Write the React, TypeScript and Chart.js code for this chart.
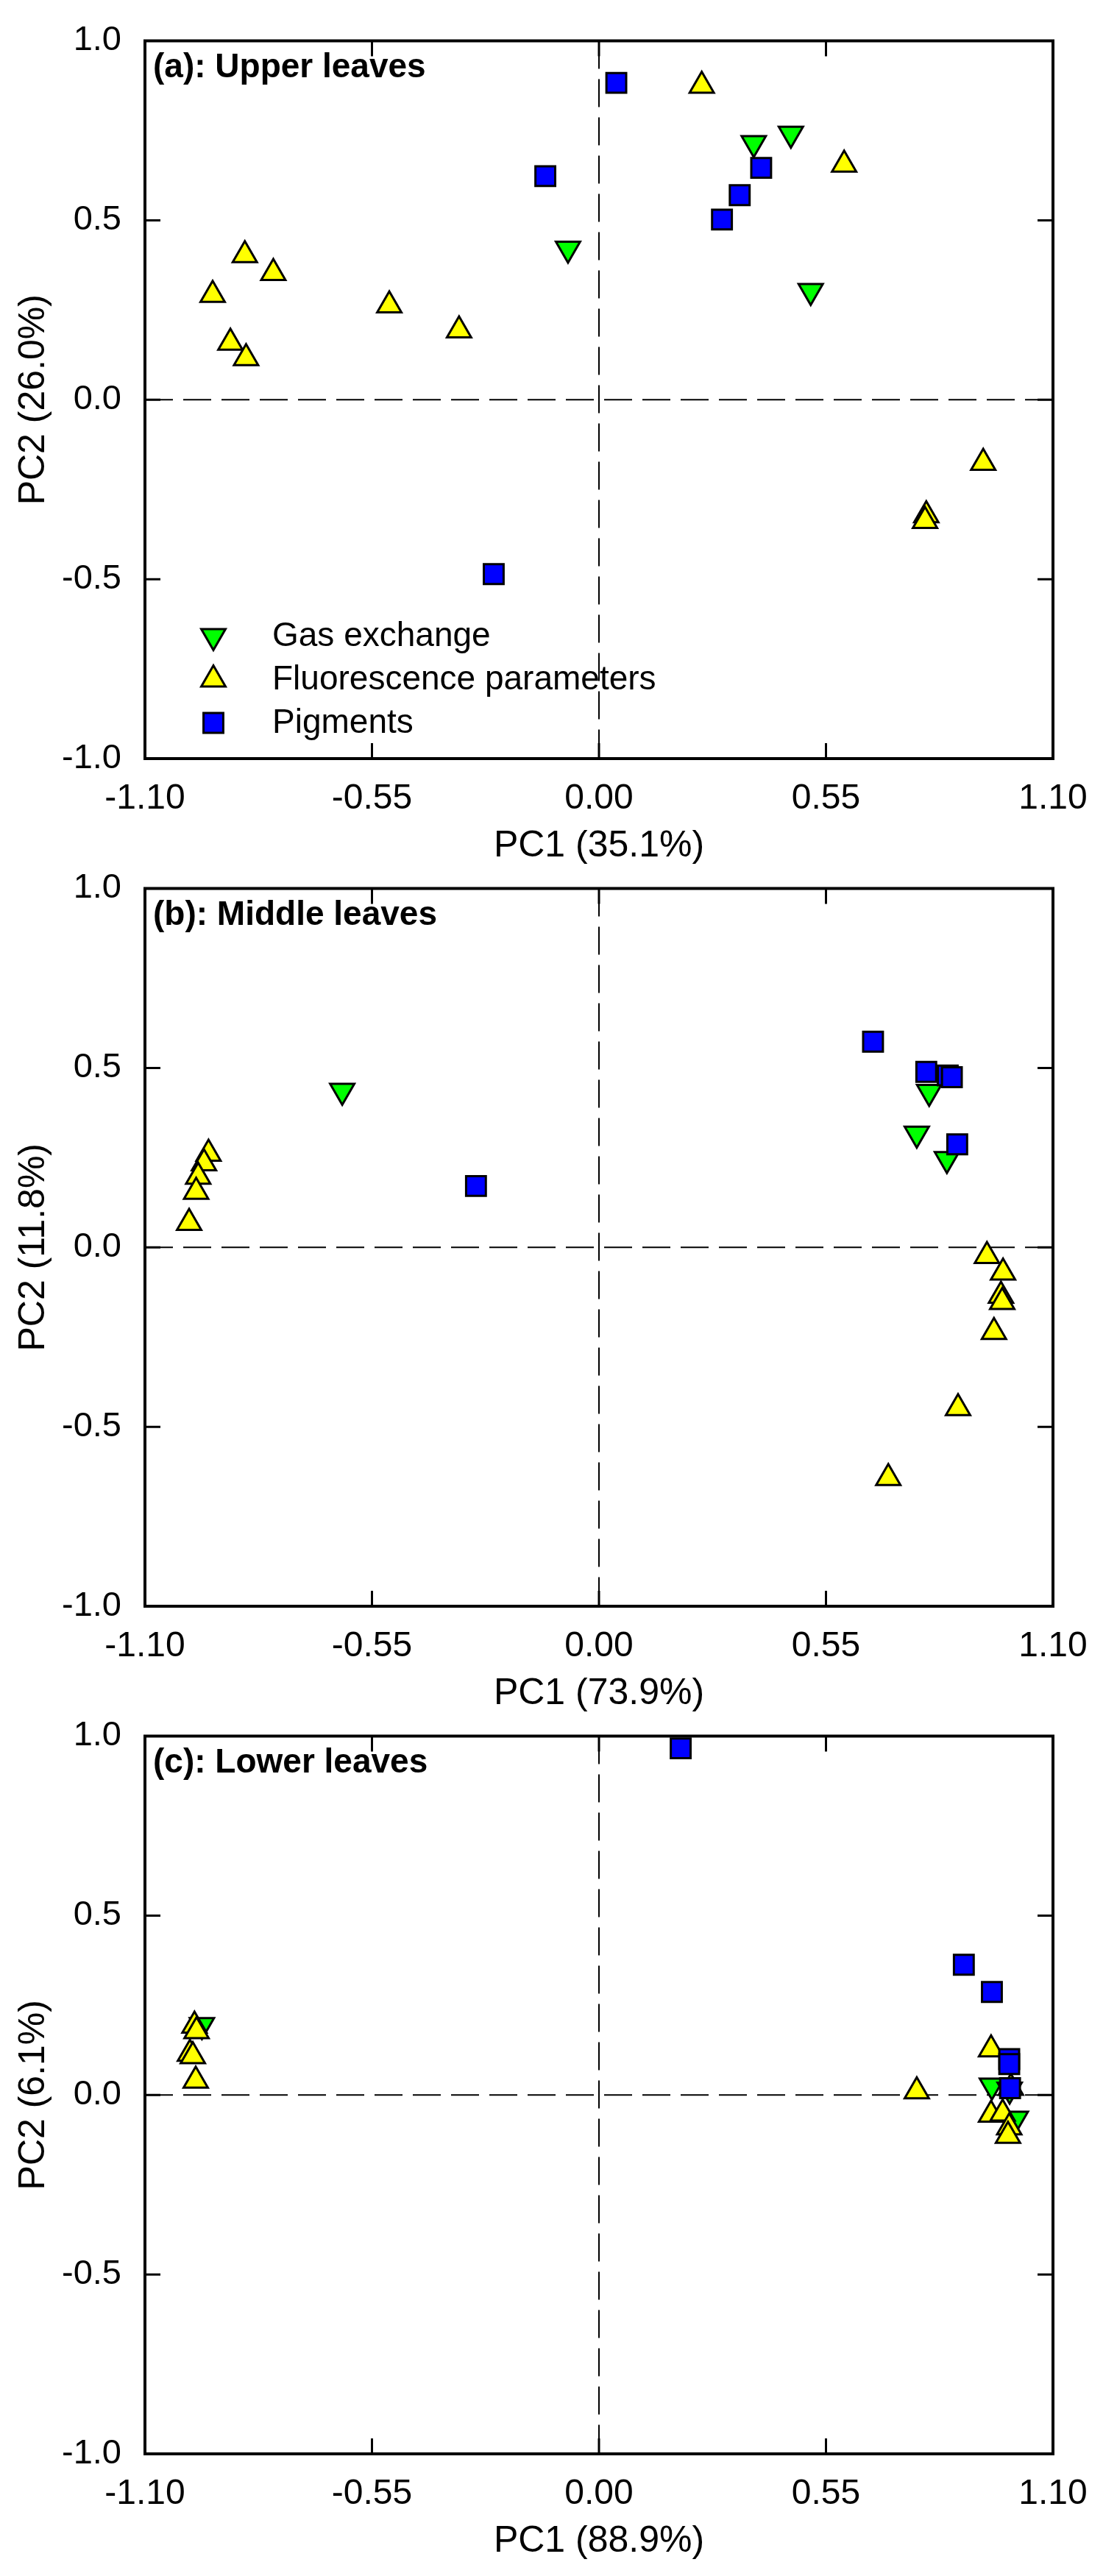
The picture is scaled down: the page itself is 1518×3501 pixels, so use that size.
import React, { useEffect, useRef } from 'react';
import { Chart, registerables } from 'chart.js';

Chart.register(...registerables);

// ---------- tick labels ----------
const X_TICKS = [-1.1, -0.55, 0, 0.55, 1.1];
const Y_TICKS = [-1, -0.5, 0, 0.5, 1];

// ---------- series names (legend order) ----------
const SERIES_NAMES = ['Gas exchange', 'Fluorescence parameters', 'Pigments'];

// ---------- panel (a) Upper leaves ----------
const GAS_A_X = [0.375, 0.465, -0.075, 0.513];
const GAS_A_Y = [0.715, 0.741, 0.421, 0.303];
const FLU_A_X = [0.249, 0.594, -0.858, -0.789, -0.936, -0.508, -0.339, -0.893, -0.855, 0.931, 0.793, 0.79];
const FLU_A_Y = [0.875, 0.655, 0.403, 0.353, 0.292, 0.263, 0.193, 0.159, 0.116, -0.176, -0.322, -0.338];
const PIG_A_X = [0.042, -0.13, 0.393, 0.341, 0.298, -0.255];
const PIG_A_Y = [0.883, 0.623, 0.646, 0.57, 0.502, -0.486];

// ---------- panel (b) Middle leaves ----------
const GAS_B_X = [-0.622, 0.8, 0.77, 0.843];
const GAS_B_Y = [0.436, 0.433, 0.317, 0.246];
const FLU_B_X = [-0.946, -0.957, -0.971, -0.976, -0.993, 0.94, 0.979, 0.974, 0.977, 0.957, 0.87, 0.701];
const FLU_B_Y = [0.261, 0.234, 0.197, 0.155, 0.068, -0.024, -0.07, -0.135, -0.152, -0.236, -0.448, -0.643];
const PIG_B_X = [0.664, 0.793, 0.845, 0.855, 0.868, -0.298];
const PIG_B_Y = [0.573, 0.489, 0.479, 0.474, 0.287, 0.171];

// ---------- panel (c) Lower leaves ----------
const GAS_C_X = [-0.962, 0.952, 1.01, 0.995];
const GAS_C_Y = [0.195, 0.026, -0.066, 0.015];
const FLU_C_X = [-0.98, -0.975, -0.991, -0.984, -0.977, 0.77, 0.95, 0.95, 0.978, 0.994, 0.991, 0.998];
const FLU_C_Y = [0.193, 0.178, 0.115, 0.108, 0.04, 0.01, 0.127, -0.055, -0.052, -0.09, -0.114, 0.02];
const PIG_C_X = [0.198, 0.884, 0.952, 0.994, 0.994, 0.996];
const PIG_C_Y = [0.966, 0.363, 0.287, 0.1, 0.086, 0.019];

// ---------- per-panel labels ----------
const PANEL_TITLES = ['(a): Upper leaves', '(b): Middle leaves', '(c): Lower leaves'];
const PC1_TITLES = ['PC1 (35.1%)', 'PC1 (73.9%)', 'PC1 (88.9%)'];
const PC2_TITLES = ['PC2 (26.0%)', 'PC2 (11.8%)', 'PC2 (6.1%)'];

const PANEL_DATA = [
  { gx: GAS_A_X, gy: GAS_A_Y, fx: FLU_A_X, fy: FLU_A_Y, px: PIG_A_X, py: PIG_A_Y },
  { gx: GAS_B_X, gy: GAS_B_Y, fx: FLU_B_X, fy: FLU_B_Y, px: PIG_B_X, py: PIG_B_Y },
  { gx: GAS_C_X, gy: GAS_C_Y, fx: FLU_C_X, fy: FLU_C_Y, px: PIG_C_X, py: PIG_C_Y },
];

const FONT = '"Liberation Sans", Arial, Helvetica, sans-serif';
const CANVAS_W = 1518;
const CANVAS_H = 1197;
const PANEL_STEP = 1152;

const zip = (xs: number[], ys: number[]) => xs.map((x, i) => ({ x, y: ys[i] }));

function drawMarker(ctx: CanvasRenderingContext2D, style: string, rotation: number, x: number, y: number, r: number) {
  ctx.beginPath();
  if (style === 'triangle') {
    let rad = (rotation * Math.PI) / 180;
    ctx.moveTo(x + Math.sin(rad) * r, y - Math.cos(rad) * r);
    rad += (2 * Math.PI) / 3;
    ctx.lineTo(x + Math.sin(rad) * r, y - Math.cos(rad) * r);
    rad += (2 * Math.PI) / 3;
    ctx.lineTo(x + Math.sin(rad) * r, y - Math.cos(rad) * r);
    ctx.closePath();
  } else {
    const s = Math.SQRT1_2 * r;
    ctx.rect(x - s, y - s, 2 * s, 2 * s);
  }
  ctx.fill();
  ctx.stroke();
}

const framePlugin = {
  id: 'pcaFrame',
  beforeDatasetsDraw(chart: any, _args: any, opts: any) {
    const { ctx, chartArea, scales } = chart;
    const { left, right, top, bottom } = chartArea;
    const xs = scales.x;
    const ys = scales.y;
    ctx.save();
    // dashed zero lines
    ctx.strokeStyle = '#000';
    ctx.lineWidth = 2;
    ctx.setLineDash([38, 14]);
    const x0 = xs.getPixelForValue(0);
    const y0 = ys.getPixelForValue(0);
    ctx.beginPath();
    ctx.moveTo(x0, top);
    ctx.lineTo(x0, bottom);
    ctx.stroke();
    ctx.beginPath();
    ctx.moveTo(left, y0);
    ctx.lineTo(right, y0);
    ctx.stroke();
    ctx.setLineDash([]);
    // inward ticks on all four sides
    ctx.lineWidth = 3;
    ctx.beginPath();
    X_TICKS.forEach((v) => {
      const px = xs.getPixelForValue(v);
      ctx.moveTo(px, bottom);
      ctx.lineTo(px, bottom - 21);
      ctx.moveTo(px, top);
      ctx.lineTo(px, top + 21);
    });
    Y_TICKS.forEach((v) => {
      const py = ys.getPixelForValue(v);
      ctx.moveTo(left, py);
      ctx.lineTo(left + 21, py);
      ctx.moveTo(right, py);
      ctx.lineTo(right - 21, py);
    });
    ctx.stroke();
    // frame
    ctx.lineWidth = 4;
    ctx.strokeRect(left, top, right - left, bottom - top);
    // panel title
    ctx.fillStyle = '#000';
    ctx.font = `bold 46px ${FONT}`;
    ctx.textAlign = 'left';
    ctx.textBaseline = 'alphabetic';
    ctx.fillText(opts.title, left + 11, top + 49);
    ctx.restore();
  },
  afterDatasetsDraw(chart: any, _args: any, opts: any) {
    if (!opts.legend) return;
    const { ctx, chartArea } = chart;
    const { left, top } = chartArea;
    const rows = [809, 868, 927];
    ctx.save();
    chart.data.datasets.forEach((ds: any, i: number) => {
      const cy = top + rows[i];
      ctx.fillStyle = ds.backgroundColor;
      ctx.strokeStyle = ds.borderColor;
      ctx.lineWidth = ds.borderWidth;
      drawMarker(ctx, ds.pointStyle, ds.rotation || 0, left + 93, cy, ds.pointRadius);
      ctx.fillStyle = '#000';
      ctx.font = `46px ${FONT}`;
      ctx.textAlign = 'left';
      ctx.textBaseline = 'middle';
      ctx.fillText(ds.label, left + 173, cy + 1);
    });
    ctx.restore();
  },
};

function Panel({ index }: { index: number }) {
  const ref = useRef<HTMLCanvasElement | null>(null);
  useEffect(() => {
    if (!ref.current) return;
    const d = PANEL_DATA[index];
    const common = { pointRadius: 19, borderWidth: 3, borderColor: '#000', showLine: false, clip: false as any };
    const chart = new Chart(ref.current, {
      type: 'scatter',
      data: {
        datasets: [
          { ...common, label: SERIES_NAMES[0], data: zip(d.gx, d.gy), pointStyle: 'triangle', rotation: 180, backgroundColor: '#00FF00', order: 2 } as any,
          { ...common, label: SERIES_NAMES[1], data: zip(d.fx, d.fy), pointStyle: 'triangle', rotation: 0, backgroundColor: '#FFFF00', order: 1 } as any,
          { ...common, label: SERIES_NAMES[2], data: zip(d.px, d.py), pointStyle: 'rect', backgroundColor: '#0000FF', order: 0 } as any,
        ],
      },
      options: {
        animation: false,
        responsive: false,
        events: [],
        layout: { padding: { top: 44, right: 87, bottom: 0, left: 0 } },
        plugins: {
          legend: { display: false },
          tooltip: { enabled: false },
          pcaFrame: { title: PANEL_TITLES[index], legend: index === 0 },
        } as any,
        scales: {
          x: {
            type: 'linear',
            position: 'bottom',
            min: -1.1,
            max: 1.1,
            afterBuildTicks: (s: any) => {
              s.ticks = X_TICKS.map((v) => ({ value: v }));
            },
            afterFit: (s: any) => {
              s.height = CANVAS_H - 1031;
            },
            grid: { display: false, drawTicks: false },
            border: { display: false },
            ticks: {
              autoSkip: false,
              maxRotation: 0,
              padding: 31,
              color: '#000',
              font: { family: FONT, size: 48, lineHeight: 1 },
              callback: (v: any) => Number(v).toFixed(2),
            },
            title: {
              display: true,
              text: PC1_TITLES[index],
              color: '#000',
              font: { family: FONT, size: 50, lineHeight: 1 },
              padding: { top: 0, bottom: 22 },
            },
          },
          y: {
            type: 'linear',
            position: 'left',
            min: -1,
            max: 1,
            afterBuildTicks: (s: any) => {
              s.ticks = Y_TICKS.map((v) => ({ value: v }));
            },
            afterFit: (s: any) => {
              s.width = 197;
            },
            grid: { display: false, drawTicks: false },
            border: { display: false },
            ticks: {
              autoSkip: false,
              padding: 32,
              color: '#000',
              font: { family: FONT, size: 47, lineHeight: 1 },
              callback: (v: any) => Number(v).toFixed(1),
            },
            title: {
              display: true,
              text: PC2_TITLES[index],
              color: '#000',
              font: { family: FONT, size: 50, lineHeight: 1 },
              padding: { top: 21, bottom: 0 },
            },
          },
        },
      },
      plugins: [framePlugin as any],
    });
    return () => chart.destroy();
  }, [index]);
  return (
    <canvas
      ref={ref}
      width={CANVAS_W}
      height={CANVAS_H}
      style={{ position: 'absolute', left: 0, top: index * PANEL_STEP, width: CANVAS_W, height: CANVAS_H }}
    />
  );
}

export default function App() {
  useEffect(() => {
    document.body.style.margin = '0';
  }, []);
  return (
    <div style={{ position: 'absolute', left: 0, top: 0, width: CANVAS_W, height: 3501, background: '#fff', overflow: 'hidden' }}>
      {[0, 1, 2].map((i) => (
        <Panel key={i} index={i} />
      ))}
    </div>
  );
}
